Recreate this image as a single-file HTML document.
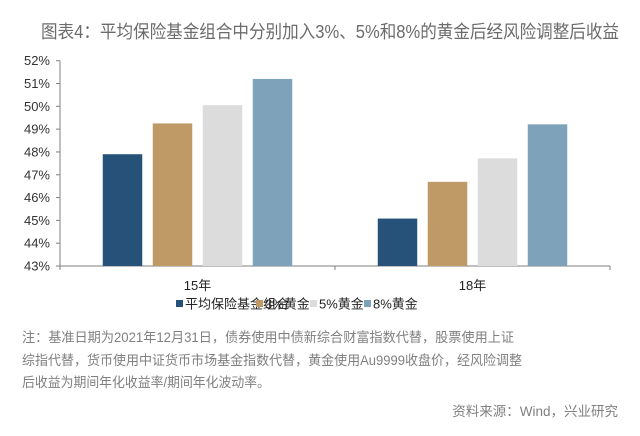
<!DOCTYPE html>
<html><head><meta charset="utf-8"><style>
body{margin:0;background:#fff;width:640px;height:436px;overflow:hidden;font-family:"Liberation Sans","Noto Sans CJK SC",sans-serif}
svg{position:absolute;left:0;top:0}
</style></head><body>
<svg width="640" height="436">
<text x="330" y="38" text-anchor="middle" font-size="18" fill="#6b6b6b" textLength="578" lengthAdjust="spacingAndGlyphs">图表4：平均保险基金组合中分别加入3%、5%和8%的黄金后经风险调整后收益</text>
<g id="plot"></g>
<g id="legend"></g>
<g fill="#808080" font-size="13.5">
<text x="22" y="342" textLength="492" lengthAdjust="spacingAndGlyphs">注：基准日期为2021年12月31日，债券使用中债新综合财富指数代替，股票使用上证</text>
<text x="22" y="365" textLength="500" lengthAdjust="spacingAndGlyphs">综指代替，货币使用中证货币市场基金指数代替，黄金使用Au9999收盘价，经风险调整</text>
<text x="22" y="387" textLength="248" lengthAdjust="spacingAndGlyphs">后收益为期间年化收益率/期间年化波动率。</text>
</g>
<text x="618" y="416" text-anchor="end" font-size="13.5" fill="#808080">资料来源：Wind，兴业研究</text>
</svg>
<script>
const categories=["15年","18年"];
const seriesNames=["平均保险基金组合","3%黄金","5%黄金","8%黄金"];
const seriesColors=["#26527a","#c09a66","#dcdcdc","#7fa2bb"];
const avgFund=[47.9,45.08];
const gold3=[49.25,46.69];
const gold5=[50.05,47.72];
const gold8=[51.2,49.21];
const yTicks=[43,44,45,46,47,48,49,50,51,52];
const series=[avgFund,gold3,gold5,gold8];
const NS="http://www.w3.org/2000/svg";
const x0=60,x1=610,yTop=60.7,yBot=266,yMin=43,yMax=52;
const y=v=>yBot-(v-yMin)/(yMax-yMin)*(yBot-yTop);
const groupW=(x1-x0)/categories.length;
const plot=document.getElementById('plot');
function mk(tag,attrs,parent){const e=document.createElementNS(NS,tag);for(const k in attrs)e.setAttribute(k,attrs[k]);parent.appendChild(e);return e;}
// y axis
const ya=mk('line',{x1:x0,y1:yTop,x2:x0,y2:yBot,stroke:'#7f7f7f'},plot);


yTicks.forEach(t=>{
  mk('line',{x1:x0-4,y1:y(t),x2:x0,y2:y(t),stroke:'#7f7f7f'},plot);
  const tx=mk('text',{x:x0-10,y:y(t)+4.5,'text-anchor':'end','font-size':'13',fill:'#333'},plot);
  tx.textContent=t+'%';
  
  
});
const xa=mk('line',{x1:x0,y1:yBot,x2:x1,y2:yBot,stroke:'#7f7f7f'},plot);


for(let i=0;i<=categories.length;i++){mk('line',{x1:x0+i*groupW,y1:yBot,x2:x0+i*groupW,y2:yBot+4,stroke:'#7f7f7f'},plot);}
const bw=39.5,gap=50;
categories.forEach((c,ci)=>{
  const cx=x0+groupW*(ci+0.5);
  series.forEach((s,si)=>{
    const bx=cx-1.5*gap-bw/2+si*gap;
    const r=mk('rect',{x:bx,y:y(s[ci]),width:bw,height:yBot-y(s[ci]),fill:seriesColors[si]},plot);
    
    
  });
  const lt=mk('text',{x:cx,y:yBot+24,'text-anchor':'middle','font-size':'13',fill:'#222'},plot);
  lt.textContent=c;
  
  
});
const lg=document.getElementById('legend');
const lx=[176,256,310,364];
seriesNames.forEach((n,i)=>{
  const g=mk('g',{},lg);
  
  
  mk('rect',{x:lx[i],y:300,width:7,height:7,fill:seriesColors[i]},g);
  const t=mk('text',{x:lx[i]+9,y:308.5,'font-size':'13',fill:'#222'},g);
  t.textContent=n;
});
</script>
</body></html>
